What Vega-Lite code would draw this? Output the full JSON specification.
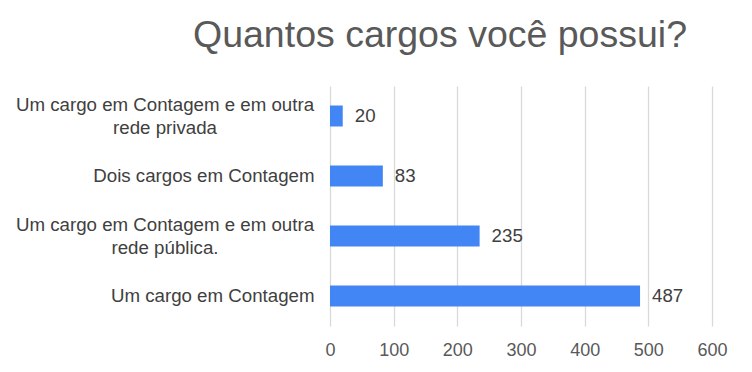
{
  "$schema": "https://vega.github.io/schema/vega-lite/v6.json",
  "width": 382,
  "height": 240,
  "padding": {"left": 15, "top": 16, "right": 40, "bottom": 10},
  "background": "white",
  "config": {"view": {"stroke": null}, "font": "Liberation Sans"},
  "title": {
    "text": "Quantos cargos você possui?",
    "font": "Liberation Sans",
    "fontSize": 37.5,
    "fontWeight": "normal",
    "color": "#595959",
    "anchor": "middle",
    "frame": "group",
    "dx": -81,
    "offset": 32
  },
  "data": {
    "values": [
      {"category": "Um cargo em Contagem e em outra|rede privada", "value": 20},
      {"category": "Dois cargos em Contagem", "value": 83},
      {"category": "Um cargo em Contagem e em outra|rede pública.", "value": 235},
      {"category": "Um cargo em Contagem", "value": 487}
    ]
  },
  "encoding": {
    "y": {
      "field": "category",
      "type": "nominal",
      "sort": null,
      "scale": {"paddingInner": 0.65, "paddingOuter": 0.325},
      "axis": {
        "title": null,
        "domain": false,
        "ticks": false,
        "grid": false,
        "labelLimit": 0,
        "labelFont": "Liberation Sans",
        "labelFontSize": 18.7,
        "labelColor": "#404040",
        "labelLineHeight": 23,
        "labelExpr": "split(datum.label, '|')",
        "labelAlign": {"expr": "indexof(datum.value, '|') >= 0 ? 'center' : 'right'"},
        "labelPadding": {"expr": "indexof(datum.value, '|') >= 0 ? 165.5 : 16"},
        "labelOffset": {"expr": "indexof(datum.value, '|') >= 0 ? -11.5 : 0"}
      }
    },
    "x": {
      "field": "value",
      "type": "quantitative",
      "scale": {"domain": [0, 600]},
      "axis": {
        "title": null,
        "values": [0, 100, 200, 300, 400, 500, 600],
        "domain": false,
        "ticks": false,
        "grid": true,
        "gridColor": "#d9d9d9",
        "gridWidth": 1.3,
        "labelFlush": false,
        "labelPadding": 15,
        "labelFont": "Liberation Sans",
        "labelFontSize": 18,
        "labelColor": "#595959"
      }
    }
  },
  "layer": [
    {"mark": {"type": "bar", "color": "#4285F4"}},
    {
      "mark": {
        "type": "text",
        "align": "left",
        "baseline": "middle",
        "dx": 12,
        "font": "Liberation Sans",
        "fontSize": 18.7,
        "color": "#404040"
      },
      "encoding": {"text": {"field": "value", "type": "quantitative"}}
    }
  ]
}
